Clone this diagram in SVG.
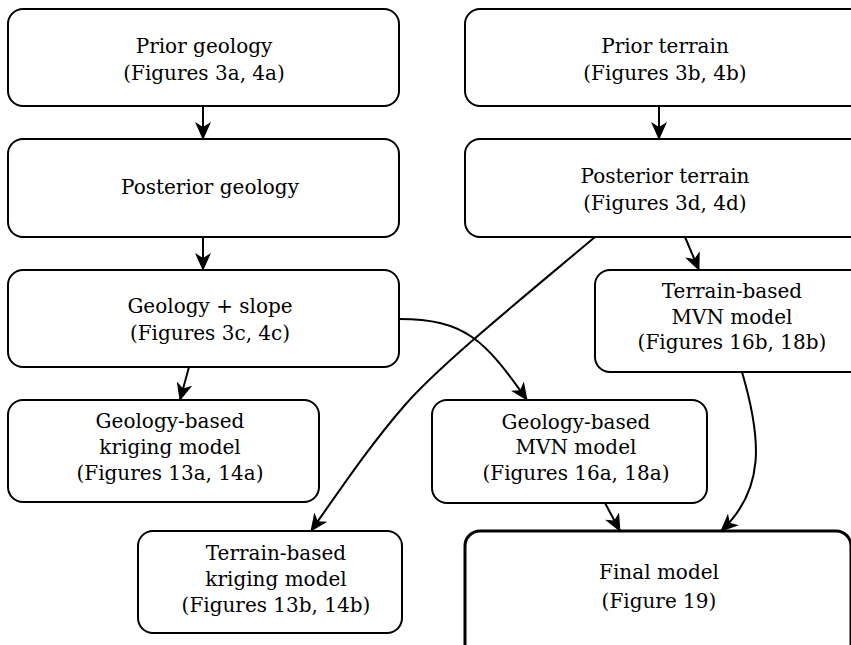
<svg xmlns="http://www.w3.org/2000/svg" width="851" height="645" viewBox="0 0 851 645">
<style>
.box{fill:#fff;stroke:#000;stroke-width:2}
.final{fill:#fff;stroke:#000;stroke-width:3}
text{font-family:"DejaVu Serif",serif;font-size:20px;fill:#000;text-anchor:middle}
.edge{fill:none;stroke:#000;stroke-width:2;marker-end:url(#ah)}
</style>
<defs>
<marker id="ah" viewBox="0 0 18 16" refX="17" refY="8" markerWidth="18" markerHeight="16" markerUnits="userSpaceOnUse" orient="auto">
<path d="M0,0 L18,8 L0,16 L5,8 Z" fill="#000"/>
</marker>
</defs>
<rect width="851" height="645" fill="#fff"/>
<g id="connectors">
<path class="edge" d="M203,106 L203,139"/>
<path class="edge" d="M203,237 L203,270"/>
<path class="edge" d="M189,367 L180,400"/>
<path class="edge" d="M659,106 L659,139"/>
<path class="edge" d="M685,237 L699,270"/>
<path class="edge" d="M595,237 C520,300 440,365 405,405 C370,445 340,490 311,531"/>
<path class="edge" d="M399,319 C465,319 485,340 527,400"/>
<path class="edge" d="M742,372 C762,440 765,490 721,531"/>
<path class="edge" d="M605,503 L620,531"/>
</g>
<g id="prior-geology"><rect class="box" x="8" y="9" width="391" height="97" rx="15"/><text x="204" y="53">Prior geology</text><text x="204" y="80">(Figures 3a, 4a)</text></g>
<g id="posterior-geology"><rect class="box" x="8" y="139" width="391" height="98" rx="15"/><text x="210" y="194">Posterior geology</text></g>
<g id="geology-slope"><rect class="box" x="8" y="270" width="391" height="97" rx="15"/><text x="210" y="313">Geology + slope</text><text x="210" y="340">(Figures 3c, 4c)</text></g>
<g id="geology-kriging"><rect class="box" x="8" y="400" width="311" height="102" rx="15"/><text x="170" y="428">Geology-based</text><text x="170" y="454">kriging model</text><text x="170" y="480">(Figures 13a, 14a)</text></g>
<g id="prior-terrain"><rect class="box" x="465" y="9" width="400" height="97" rx="15"/><text x="665" y="53">Prior terrain</text><text x="665" y="80">(Figures 3b, 4b)</text></g>
<g id="posterior-terrain"><rect class="box" x="465" y="139" width="400" height="98" rx="15"/><text x="665" y="183">Posterior terrain</text><text x="665" y="210">(Figures 3d, 4d)</text></g>
<g id="terrain-mvn"><rect class="box" x="595" y="270" width="270" height="102" rx="15"/><text x="732" y="298">Terrain-based</text><text x="732" y="324">MVN model</text><text x="732" y="349">(Figures 16b, 18b)</text></g>
<g id="geology-mvn"><rect class="box" x="432" y="400" width="275" height="103" rx="15"/><text x="576" y="429">Geology-based</text><text x="576" y="454">MVN model</text><text x="576" y="480">(Figures 16a, 18a)</text></g>
<g id="terrain-kriging"><rect class="box" x="138" y="531" width="264" height="102" rx="15"/><text x="276" y="560">Terrain-based</text><text x="276" y="586">kriging model</text><text x="276" y="612">(Figures 13b, 14b)</text></g>
<g id="final-model"><rect class="final" x="465" y="531" width="386" height="130" rx="15"/><text x="659" y="579">Final model</text><text x="659" y="608">(Figure 19)</text></g>
</svg>
